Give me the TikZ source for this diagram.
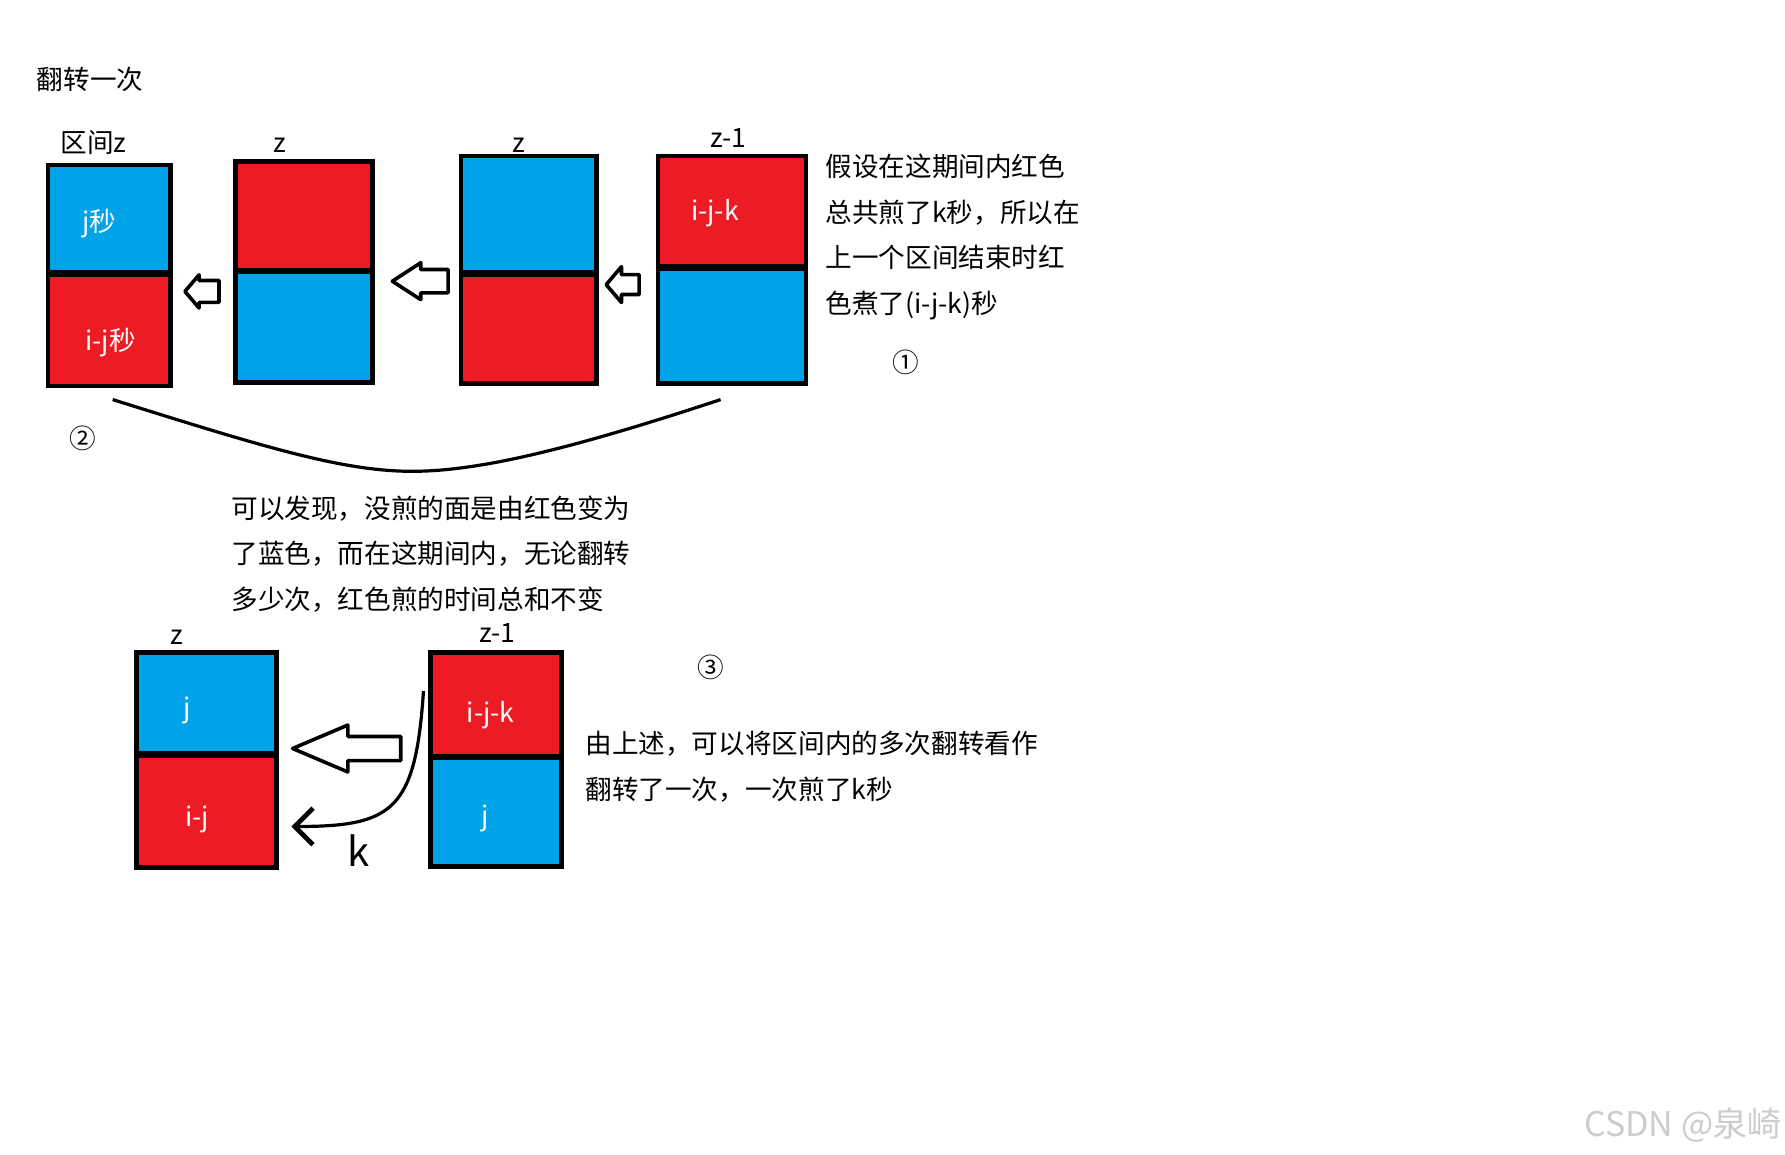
\documentclass[tikz,border=0pt]{standalone}
\usepackage{fontspec}
\setmainfont{Noto Sans CJK SC}
\usepackage{tikz}
\usetikzlibrary{shapes.arrows, arrows.meta}
\definecolor{paintred}{RGB}{237,28,36}
\definecolor{paintblue}{RGB}{0,162,232}

\begin{document}
\begin{tikzpicture}[
  x=0.2mm, y=-0.2mm,
  every node/.style={font=\fontsize{13.3pt}{22.8pt}\selectfont, inner sep=0pt},
  redhalf/.style ={draw, line width=2.3pt, fill=paintred},
  bluehalf/.style={draw, line width=2.3pt, fill=paintblue},
  intext/.style  ={text=white},
  note/.style    ={align=left, anchor=north west},
  hollow/.style  ={single arrow, draw, line width=1.8pt, line join=round, fill=white,
                   shape border rotate=180, single arrow head indent=0pt},
  swoop/.style   ={line width=1.6pt},
  karrow/.style  ={line width=1.6pt,
                   -{Straight Barb[length=3.2mm, width=6.4mm, line width=2.4pt]}},
]
\useasboundingbox (0,0) rectangle (1568,1014);

\node[anchor=west] (title) at (32,70) {翻转一次};

% upper row: the flips inside interval z
\node[bluehalf, minimum width=21.6mm, minimum height=18.8mm] (b1top) at (96,192)    {};
\node[redhalf,  minimum width=21.6mm, minimum height=19.6mm] (b1bot) at (96,290)    {};
\node[redhalf,  minimum width=24.0mm, minimum height=19.0mm] (b2top) at (267,189.5) {};
\node[bluehalf, minimum width=24.0mm, minimum height=19.4mm] (b2bot) at (267,287.5) {};
\node[bluehalf, minimum width=23.8mm, minimum height=20.4mm] (b3top) at (464.5,188) {};
\node[redhalf,  minimum width=23.8mm, minimum height=19.2mm] (b3bot) at (464.5,289) {};
\node[redhalf,  minimum width=26.0mm, minimum height=19.4mm] (b4top) at (643,185.5) {};
\node[bluehalf, minimum width=26.0mm, minimum height=20.2mm] (b4bot) at (643,286.5) {};

\node[intext] (t1top) at (87,196)  {j秒};
\node[intext] (t1bot) at (97,301)  {i-j秒};
\node[intext] (t4top) at (628,187) {i-j-k};

\node (l1) at (82,125)  {区间z};
\node (l2) at (246,128) {z};
\node (l3) at (456,128) {z};
\node (l4) at (640,121) {z-1};

\node[hollow, minimum height=6.0mm, inner ysep=1.6mm, single arrow head extend=1.0mm,
      single arrow tip angle=99] (a1) at (181.5,256) {};
\node[hollow, minimum height=9.8mm, inner ysep=1.73mm, single arrow head extend=1.2mm,
      single arrow tip angle=66] (a2) at (377,247) {};
\node[hollow, minimum height=5.8mm, inner ysep=1.43mm, single arrow head extend=1.4mm,
      single arrow tip angle=99] (a3) at (550.7,250) {};

\node[note] (n1) at (725,135) {假设在这期间内红色\\总共煎了k秒，所以在\\上一个区间结束时红\\色煮了(i-j-k)秒};
\node (c1) at (796,318) {①};
\node (c2) at (73,385)  {②};

% the swoop under the upper row
\coordinate (brl) at (99,351);
\coordinate (brm) at (362,414);
\coordinate (brr) at (633,351);
\draw[swoop] (brl) .. controls (230,392) and (300,414) .. (brm)
                   .. controls (420,414) and (500,395) .. (brr);

\node[note] (n2) at (203,435) {可以发现，没煎的面是由红色变为\\了蓝色，而在这期间内，无论翻转\\多少次，红色煎的时间总和不变};

% lower row: the same, seen as one flip
\node[bluehalf, minimum width=24.6mm, minimum height=17.8mm] (b5top) at (181.5,617.5) {};
\node[redhalf,  minimum width=24.6mm, minimum height=19.6mm] (b5bot) at (181.5,713)   {};
\node[redhalf,  minimum width=23.0mm, minimum height=18.2mm] (b6top) at (435.5,618.5) {};
\node[bluehalf, minimum width=23.0mm, minimum height=19.0mm] (b6bot) at (435.5,713.5) {};

\node[intext] (t5top) at (164,624) {j};
\node[intext] (t5bot) at (173,720) {i-j};
\node[intext] (t6top) at (431,628) {i-j-k};
\node[intext] (t6bot) at (426,719) {j};

\node (l5) at (155,560) {z};
\node (l6) at (437,556) {z-1};

\node[hollow, minimum height=19.0mm, inner ysep=1.8mm, single arrow head extend=2.0mm,
      single arrow tip angle=46] (a4) at (317,657.5) {};

\coordinate (kstart) at (372,607);
\coordinate (kend) at (256,726);
\draw[karrow] (kstart) .. controls (365,712) and (345,726) .. (kend);
\node[font=\fontsize{20pt}{20pt}\selectfont] (klab) at (315,747) {k};

\node (c3) at (624,586) {③};
\node[note] (n3) at (514,642) {由上述，可以将区间内的多次翻转看作\\翻转了一次，一次煎了k秒};

\node[anchor=east, text=gray!40, font=\fontsize{17pt}{17pt}\selectfont] (mark) at (1565,988) {CSDN @泉崎};

\end{tikzpicture}
\end{document}
